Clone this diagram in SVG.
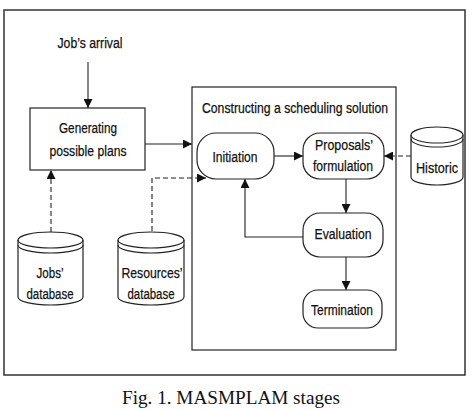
<svg xmlns="http://www.w3.org/2000/svg" width="472" height="410" viewBox="0 0 472 410">
<defs>
<marker id="ah" viewBox="0 0 10 10" refX="10" refY="5" markerWidth="9" markerHeight="9" markerUnits="userSpaceOnUse" orient="auto">
<path d="M0,0 L10,5 L0,10 Z" fill="#111"/>
</marker>
<style>
.t{font-family:"Liberation Sans Narrow","Liberation Sans",Arial,sans-serif;font-size:15.5px;fill:#111;stroke:#111;stroke-width:0.25;text-anchor:middle}
.box{fill:#fff;stroke:#222;stroke-width:1.2}
.ln{fill:none;stroke:#222;stroke-width:1.1}
.ds{fill:none;stroke:#222;stroke-width:1.1;stroke-dasharray:5 3}
.cap{font-family:"Liberation Serif","Times New Roman",serif;font-size:18.5px;fill:#111;text-anchor:middle}
</style>
</defs>
<rect width="472" height="410" fill="#fff"/>
<rect x="4" y="10" width="461" height="365" fill="none" stroke="#333" stroke-width="1.5"/>
<g id="inner-box">
<rect x="192" y="87" width="204" height="263" class="box"/>
<text class="t" x="295" y="113" textLength="186" lengthAdjust="spacingAndGlyphs">Constructing a scheduling solution</text>
</g>
<g id="connectors">
<path class="ln" d="M88,62 L88,108" marker-end="url(#ah)"/>
<path class="ln" d="M145,144 L192,144" marker-end="url(#ah)"/>
<path class="ds" d="M51,232 L51,170" marker-end="url(#ah)"/>
<path class="ds" d="M152,231 L152,178 L206,178" marker-end="url(#ah)"/>
<path class="ln" d="M274,156 L303,156" marker-end="url(#ah)"/>
<path class="ds" d="M411,156 L384,156" marker-end="url(#ah)"/>
<path class="ln" d="M346,179 L346,213" marker-end="url(#ah)"/>
<path class="ln" d="M303,237 L245,237 L245,179" marker-end="url(#ah)"/>
<path class="ln" d="M346,257 L346,290" marker-end="url(#ah)"/>
</g>
<g id="job-arrival">
<text class="t" x="90" y="48" textLength="65" lengthAdjust="spacingAndGlyphs">Job’s arrival</text>
</g>
<g id="generating">
<rect x="30" y="108" width="115" height="62" class="box"/>
<text class="t" x="88" y="133" textLength="58" lengthAdjust="spacingAndGlyphs">Generating</text>
<text class="t" x="88" y="156" textLength="77" lengthAdjust="spacingAndGlyphs">possible plans</text>
</g>
<g id="initiation">
<rect x="197" y="133" width="77" height="46" rx="19" ry="19" class="box"/>
<text class="t" x="235" y="162" textLength="45" lengthAdjust="spacingAndGlyphs">Initiation</text>
</g>
<g id="proposals">
<rect x="303" y="133" width="81" height="46" rx="17" ry="17" class="box"/>
<text class="t" x="344" y="150" textLength="58" lengthAdjust="spacingAndGlyphs">Proposals’</text>
<text class="t" x="343" y="171" textLength="60" lengthAdjust="spacingAndGlyphs">formulation</text>
</g>
<g id="evaluation">
<rect x="303" y="213" width="80" height="44" rx="17" ry="17" class="box"/>
<text class="t" x="343" y="239" textLength="57" lengthAdjust="spacingAndGlyphs">Evaluation</text>
</g>
<g id="termination">
<rect x="303" y="290" width="79" height="38" rx="15" ry="15" class="box"/>
<text class="t" x="342" y="315" textLength="62" lengthAdjust="spacingAndGlyphs">Termination</text>
</g>
<g id="historic">
<path class="box" d="M411,135 L411,177 A26,8 0 0 0 463,177 L463,135 A26,8 0 0 0 411,135 Z"/>
<path class="ln" d="M411,135 A26,8 0 0 0 463,135"/>
<path class="ln" d="M411,139 A26,8 0 0 0 463,139"/>
<text class="t" x="437" y="173" textLength="42" lengthAdjust="spacingAndGlyphs">Historic</text>
</g>
<g id="jobs-db">
<path class="box" d="M18,240 L18,297 A32.5,8 0 0 0 83,297 L83,240 A32.5,8 0 0 0 18,240 Z"/>
<path class="ln" d="M18,240 A32.5,8 0 0 0 83,240"/>
<path class="ln" d="M18,245 A32.5,8 0 0 0 83,245"/>
<text class="t" x="50" y="278" textLength="27" lengthAdjust="spacingAndGlyphs">Jobs’</text>
<text class="t" x="50" y="299" textLength="47" lengthAdjust="spacingAndGlyphs">database</text>
</g>
<g id="resources-db">
<path class="box" d="M118,240 L118,297 A33,8 0 0 0 184,297 L184,240 A33,8 0 0 0 118,240 Z"/>
<path class="ln" d="M118,240 A33,8 0 0 0 184,240"/>
<path class="ln" d="M118,245 A33,8 0 0 0 184,245"/>
<text class="t" x="152" y="278" textLength="61" lengthAdjust="spacingAndGlyphs">Resources’</text>
<text class="t" x="151" y="299" textLength="47" lengthAdjust="spacingAndGlyphs">database</text>
</g>
<text class="cap" x="231" y="404" textLength="218" lengthAdjust="spacingAndGlyphs">Fig. 1. MASMPLAM stages</text>
</svg>
